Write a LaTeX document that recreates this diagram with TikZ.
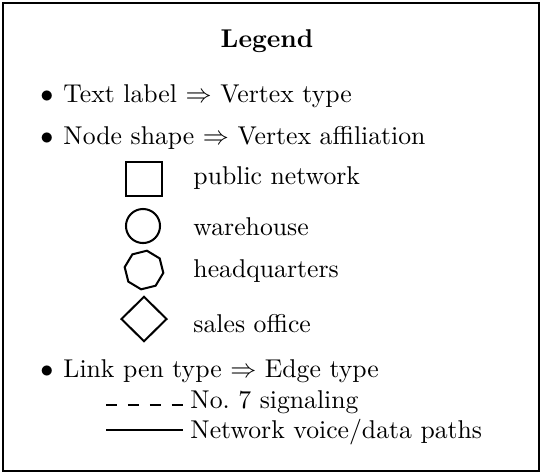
\documentclass[tikz,border=0pt]{standalone}
\usetikzlibrary{shapes.geometric}
\begin{document}
\begin{tikzpicture}[x=0.42pt,y=-0.42pt,
  every node/.style={font=\fontsize{10.8}{13}\selectfont},
  txt/.style={anchor=base west, inner sep=0pt},
  bul/.style={anchor=base, inner sep=0pt},
  shp/.style={draw, line width=0.85pt, inner sep=0pt},
  pen/.style={line width=0.85pt}]
\useasboundingbox (0,0) rectangle (541,474);
\draw[line width=0.9pt] (3,3) rectangle (539,471);
\node[bul] (title) at (267,47) {\textbf{Legend}};
\node[bul] (b1) at (47,102) {$\bullet$};
\node[txt] (t1) at (63,102) {Text label $\Rightarrow$ Vertex type};
\node[bul] (b2) at (47,144) {$\bullet$};
\node[txt] (t2) at (63,144) {Node shape $\Rightarrow$ Vertex affiliation};
\node[shp, minimum width=15.1pt, minimum height=14.3pt] (sq) at (144,179) {};
\node[txt] (l1) at (193,184) {public network};
\node[shp, circle, minimum size=14.3pt] (ci) at (143,226) {};
\node[txt] (l2) at (193,235) {warehouse};
\node[shp, regular polygon, regular polygon sides=8, minimum size=16.4pt, shape border rotate=14] (oc) at (144,270) {};
\node[txt] (l3) at (193,277) {headquarters};
\node[shp, diamond, shape aspect=1, minimum width=19.3pt, minimum height=19pt] (di) at (144,319) {};
\node[txt] (l4) at (193,332) {sales office};
\node[bul] (b3) at (47,377) {$\bullet$};
\node[txt] (t3) at (63,377) {Link pen type $\Rightarrow$ Edge type};
\coordinate (d1) at (106,405);
\coordinate (d2) at (183,405);
\draw[pen, dash pattern=on 4.6pt off 4.6pt] (d1) -- (d2);
\node[txt] (l5) at (190,408) {No.~7 signaling};
\coordinate (s1) at (106,430);
\coordinate (s2) at (183,430);
\draw[pen] (s1) -- (s2);
\node[txt] (l6) at (190,438) {Network voice/data paths};
\end{tikzpicture}
\end{document}
